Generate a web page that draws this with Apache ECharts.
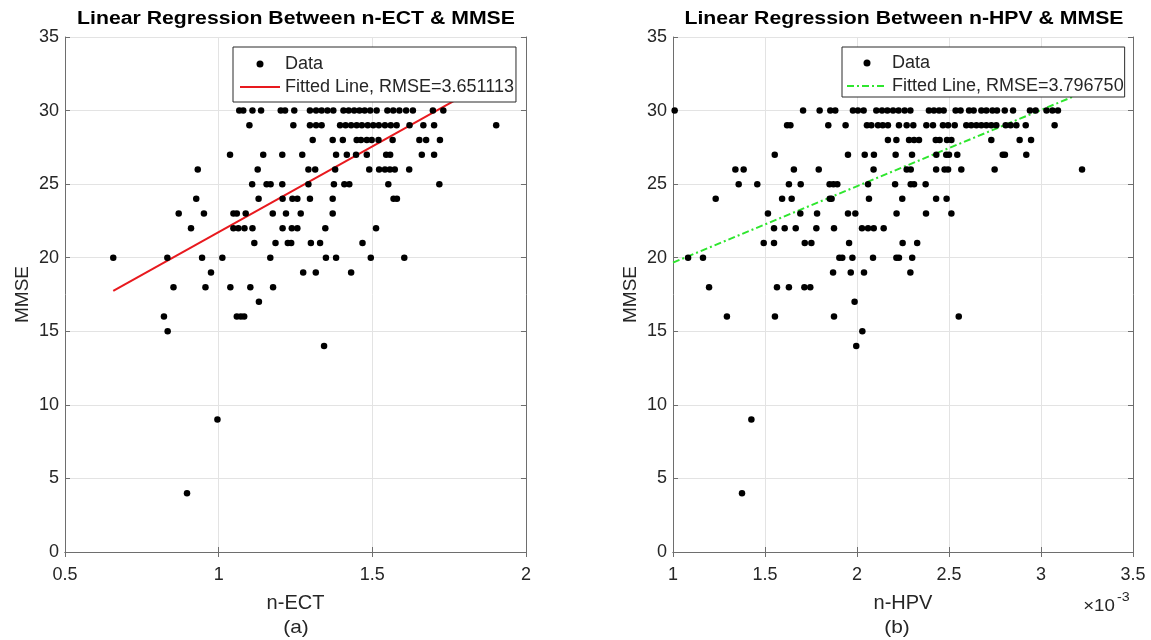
<!DOCTYPE html>
<html>
<head>
<meta charset="utf-8">
<script src="https://cdn.jsdelivr.net/npm/echarts@6/dist/echarts.min.js"></script>
<style>
html,body{margin:0;padding:0;background:#fff;}
#chart{width:1151px;height:640px;}
</style>
</head>
<body>
<div id="chart"></div>
<script>
// ---------- data ----------
const yTicks = [0, 5, 10, 15, 20, 25, 30, 35];
const ectTicks = [0.5, 1, 1.5, 2];
const hpvTicks = [1, 1.5, 2, 2.5, 3, 3.5]; // in units of 1e-3

// n-ECT vs MMSE : [n-ECT, MMSE]
const ectPoints = [
  [1.067,30],[1.080,30],[1.110,30],[1.138,30],[1.202,30],[1.216,30],[1.246,30],[1.297,30],[1.317,30],[1.335,30],[1.354,30],[1.373,30],[1.406,30],[1.423,30],[1.441,30],[1.458,30],[1.475,30],[1.493,30],[1.514,30],[1.549,30],[1.568,30],[1.588,30],[1.610,30],[1.632,30],[1.697,30],[1.731,30],
  [1.100,29],[1.243,29],[1.297,29],[1.317,29],[1.335,29],[1.395,29],[1.413,29],[1.431,29],[1.449,29],[1.466,29],[1.485,29],[1.503,29],[1.521,29],[1.541,29],[1.560,29],[1.579,29],[1.621,29],[1.666,29],[1.701,29],[1.903,29],
  [1.306,28],[1.371,28],[1.404,28],[1.449,28],[1.463,28],[1.482,28],[1.498,28],[1.520,28],[1.566,28],[1.653,28],[1.675,28],[1.720,28],
  [1.037,27],[1.145,27],[1.207,27],[1.272,27],[1.382,27],[1.417,27],[1.447,27],[1.482,27],[1.545,27],[1.558,27],[1.661,27],[1.701,27],
  [0.932,26],[1.127,26],[1.292,26],[1.314,26],[1.379,26],[1.490,26],[1.522,26],[1.541,26],[1.557,26],[1.573,26],[1.620,26],
  [1.109,25],[1.156,25],[1.169,25],[1.207,25],[1.292,25],[1.375,25],[1.409,25],[1.425,25],[1.552,25],[1.718,25],
  [0.927,24],[1.130,24],[1.208,24],[1.240,24],[1.256,24],[1.297,24],[1.371,24],[1.569,24],[1.580,24],
  [0.870,23],[0.952,23],[1.048,23],[1.059,23],[1.088,23],[1.176,23],[1.219,23],[1.267,23],[1.371,23],
  [0.910,22],[1.048,22],[1.064,22],[1.084,22],[1.110,22],[1.208,22],[1.238,22],[1.256,22],[1.347,22],[1.512,22],
  [1.116,21],[1.185,21],[1.225,21],[1.236,21],[1.300,21],[1.330,21],[1.468,21],
  [0.657,20],[0.833,20],[0.946,20],[1.012,20],[1.168,20],[1.349,20],[1.382,20],[1.495,20],[1.604,20],
  [0.975,19],[1.275,19],[1.316,19],[1.431,19],
  [0.853,18],[0.957,18],[1.038,18],[1.103,18],[1.177,18],
  [1.131,17],
  [0.822,16],[1.059,16],[1.072,16],[1.083,16],
  [0.834,15],[1.343,14],[0.996,9],[0.897,4]
];
const ectFit = [[0.657, 17.75], [1.903, 32.25]];

// n-HPV (x1e-3) vs MMSE : [n-HPV, MMSE]
const hpvPoints = [
  [1.009,30],[1.707,30],[1.797,30],[1.855,30],[1.882,30],[1.978,30],[2.005,30],[2.036,30],[2.105,30],[2.136,30],[2.165,30],[2.196,30],[2.226,30],[2.259,30],[2.290,30],[2.391,30],[2.418,30],[2.446,30],[2.471,30],[2.536,30],[2.563,30],[2.609,30],[2.634,30],[2.676,30],[2.703,30],[2.736,30],[2.761,30],[2.803,30],[2.848,30],[2.940,30],[2.971,30],[3.030,30],[3.062,30],[3.092,30],
  [1.620,29],[1.638,29],[1.844,29],[1.938,29],[2.054,29],[2.078,29],[2.114,29],[2.140,29],[2.168,29],[2.228,29],[2.270,29],[2.306,29],[2.377,29],[2.413,29],[2.467,29],[2.495,29],[2.531,29],[2.594,29],[2.621,29],[2.649,29],[2.676,29],[2.703,29],[2.730,29],[2.757,29],[2.808,29],[2.835,29],[2.866,29],[2.917,29],[3.074,29],
  [2.168,28],[2.214,28],[2.283,28],[2.310,28],[2.337,28],[2.428,28],[2.449,28],[2.489,28],[2.513,28],[2.730,28],[2.884,28],[2.946,28],
  [1.553,27],[1.951,27],[2.042,27],[2.092,27],[2.210,27],[2.299,27],[2.431,27],[2.485,27],[2.500,27],[2.545,27],[2.792,27],[2.804,27],[2.920,27],
  [1.339,26],[1.384,26],[1.657,26],[1.792,26],[2.090,26],[2.270,26],[2.292,26],[2.430,26],[2.476,26],[2.495,26],[2.567,26],[2.748,26],[3.223,26],
  [1.357,25],[1.458,25],[1.630,25],[1.694,25],[1.851,25],[1.872,25],[1.893,25],[2.060,25],[2.207,25],[2.292,25],[2.310,25],[2.373,25],
  [1.232,24],[1.593,24],[1.645,24],[1.852,24],[1.862,24],[2.065,24],[2.246,24],[2.430,24],[2.487,24],
  [1.516,23],[1.692,23],[1.783,23],[1.951,23],[1.991,23],[2.215,23],[2.375,23],[2.513,23],
  [1.549,22],[1.607,22],[1.667,22],[1.779,22],[1.875,22],[2.027,22],[2.060,22],[2.091,22],[2.145,22],
  [1.493,21],[1.549,21],[1.716,21],[1.752,21],[1.957,21],[2.248,21],[2.327,21],
  [1.082,20],[1.163,20],[1.904,20],[1.920,20],[1.975,20],[2.087,20],[2.214,20],[2.228,20],[2.300,20],
  [1.870,19],[1.966,19],[2.038,19],[2.290,19],
  [1.196,18],[1.565,18],[1.630,18],[1.714,18],[1.746,18],
  [1.987,17],
  [1.293,16],[1.554,16],[1.875,16],[2.553,16],
  [2.029,15],[1.996,14],[1.426,9],[1.375,4]
];
const hpvFit = [[1.0, 19.67], [3.223, 31.2]];

const titles = ['Linear Regression Between n-ECT & MMSE', 'Linear Regression Between n-HPV & MMSE'];
const fitNames = ['Fitted Line, RMSE=3.651113', 'Fitted Line, RMSE=3.796750'];

// ---------- chart ----------
const FONT = '"Liberation Sans", Arial, Helvetica, sans-serif';
const AX = '#262626';
const GRIDC = '#e3e3e3';
const BOX = '#6e6e6e';

function xAxes(gi, ticks, name) {
  const mn = ticks[0], mx = ticks[ticks.length - 1];
  return [{
    type: 'value', gridIndex: gi, min: mn, max: mx, interval: 0.5,
    name: name, nameLocation: 'middle', nameGap: 41,
    nameTextStyle: { fontFamily: FONT, fontSize: 20, color: AX },
    axisLine: { show: true, lineStyle: { color: BOX, width: 1 } },
    axisTick: { show: true, inside: true, length: 5, lineStyle: { color: BOX } },
    axisLabel: { fontFamily: FONT, fontSize: 18, color: AX, margin: 14 },
    splitLine: { show: true, lineStyle: { color: GRIDC, width: 1 } }
  }, {
    type: 'value', gridIndex: gi, min: mn, max: mx, interval: 0.5, position: 'top',
    axisLine: { show: true, lineStyle: { color: BOX, width: 1 } },
    axisTick: { show: true, inside: true, length: 5, lineStyle: { color: BOX } },
    axisLabel: { show: false }, splitLine: { show: false }
  }];
}
function yAxes(gi, nameGap) {
  return [{
    type: 'value', gridIndex: gi, min: 0, max: 35, interval: 5,
    name: 'MMSE', nameLocation: 'middle', nameGap: nameGap, nameRotate: 90,
    nameTextStyle: { fontFamily: FONT, fontSize: 19, color: AX },
    axisLine: { show: true, lineStyle: { color: BOX, width: 1 } },
    axisTick: { show: true, inside: true, length: 5, lineStyle: { color: BOX } },
    axisLabel: { fontFamily: FONT, fontSize: 18, color: AX, margin: 6 },
    splitLine: { show: true, lineStyle: { color: GRIDC, width: 1 } }
  }, {
    type: 'value', gridIndex: gi, min: 0, max: 35, interval: 5, position: 'right',
    axisLine: { show: true, lineStyle: { color: BOX, width: 1 } },
    axisTick: { show: true, inside: true, length: 5, lineStyle: { color: BOX } },
    axisLabel: { show: false }, splitLine: { show: false }
  }];
}

const chart = echarts.init(document.getElementById('chart'), null, { renderer: 'canvas' });

const legendBase = {
  orient: 'vertical', backgroundColor: '#ffffff',
  borderColor: '#2b2b2b', borderWidth: 1,
  itemWidth: 40, itemHeight: 7, itemGap: 5, z: 20,
  textStyle: { fontFamily: FONT, fontSize: 18, color: AX },
  selectedMode: false
};

function txt(x, y, s, font, sx, align, fill) {
  return { type: 'text', x: x, y: y, scaleX: sx, z: 30,
    style: { text: s, font: font, fill: fill || AX, align: align || 'center', verticalAlign: 'middle' } };
}

const option = {
  backgroundColor: '#ffffff',
  animation: false,
  grid: [
    { left: 65, top: 37, width: 461, height: 515 },
    { left: 673, top: 37, width: 460, height: 515 }
  ],
  xAxis: [].concat(xAxes(0, ectTicks, 'n-ECT'), xAxes(1, hpvTicks, 'n-HPV')),
  yAxis: [].concat(yAxes(0, 33), yAxes(1, 33)),
  legend: [
    Object.assign({}, legendBase, {
      left: 233, top: 47, padding: [8, 2, 6, 6],
      data: [{ name: 'Data', icon: 'circle' }, { name: fitNames[0], itemStyle: { opacity: 0 } }]
    }),
    Object.assign({}, legendBase, {
      left: 842, top: 47, padding: [7, 1, 2, 4],
      data: [{ name: 'Data', icon: 'circle' }, { name: fitNames[1], itemStyle: { opacity: 0 } }]
    })
  ],
  graphic: [
    txt(296, 19, titles[0], 'bold 18px ' + FONT, 1.18, 'center', '#000'),
    txt(904, 19, titles[1], 'bold 18px ' + FONT, 1.18, 'center', '#000'),
    txt(296, 628, '(a)', '19px ' + FONT, 1.1),
    txt(897, 628, '(b)', '19px ' + FONT, 1.1),
    txt(1099, 606, '\u00d710', '17px ' + FONT, 1.1),
    txt(1117, 597, '-3', '13px ' + FONT, 1.1, 'left')
  ],
  series: [
    {
      name: 'Data', type: 'scatter', xAxisIndex: 0, yAxisIndex: 0,
      data: ectPoints, symbol: 'circle', symbolSize: 6.5,
      itemStyle: { color: '#000000', opacity: 1 }, z: 2
    },
    {
      name: fitNames[0], type: 'line', xAxisIndex: 0, yAxisIndex: 0,
      data: ectFit, showSymbol: false, symbol: 'none',
      lineStyle: { color: '#e8191e', width: 2 }, itemStyle: { color: '#e8191e' }, z: 2
    },
    {
      name: 'Data', type: 'scatter', xAxisIndex: 2, yAxisIndex: 2,
      data: hpvPoints, symbol: 'circle', symbolSize: 6.5,
      itemStyle: { color: '#000000', opacity: 1 }, z: 2
    },
    {
      name: fitNames[1], type: 'line', xAxisIndex: 2, yAxisIndex: 2,
      data: hpvFit, showSymbol: false, symbol: 'none',
      lineStyle: { color: '#2ee62e', width: 2, type: [7, 3, 2, 3] }, itemStyle: { color: '#2ee62e' }, z: 2
    }
  ]
};
chart.setOption(option);
</script>
</body>
</html>
